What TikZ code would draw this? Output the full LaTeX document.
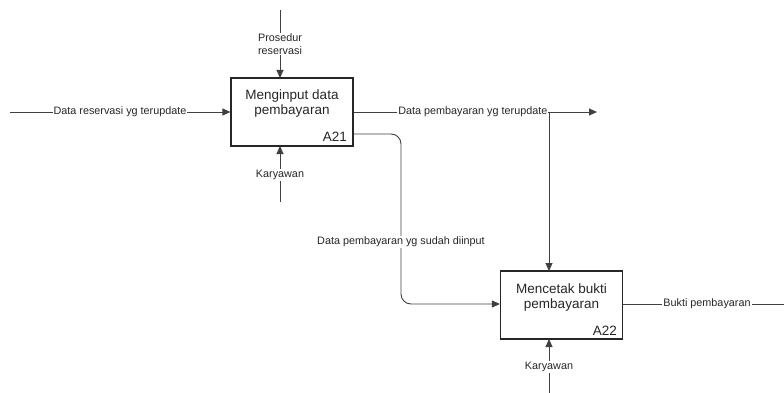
\documentclass[tikz,border=0pt]{standalone}
\usepackage{fontspec}
\setmainfont{Liberation Sans}
\usetikzlibrary{arrows.meta}
\begin{document}
\begin{tikzpicture}[x=1pt,y=-1pt,
  line/.style={draw=black!75, line width=0.9pt},
  flow/.style={line, -{Triangle[length=8pt,width=7pt]}},
  proc/.style={draw=black!85, line width=1.2pt, minimum width=122pt, minimum height=68pt, inner sep=0pt},
  title/.style={align=center, inner sep=0pt, font=\fontsize{13.5}{15}\selectfont, text=black!85},
  code/.style={inner sep=0pt, font=\fontsize{13.5}{15}\selectfont, text=black!85},
  lbl/.style={fill=white, inner sep=1pt, align=center, font=\fontsize{10.8}{12.5}\selectfont, text=black!85}]
\useasboundingbox (0,0) rectangle (784,393);

% activity boxes
\node[proc] (a21) at (292,112) {};
\node[proc] (a22) at (561.5,305) {};
% anchor "base" of a two-line node sits on the last line
\node[title, anchor=base] (t21) at (292,115) {Menginput data\\pembayaran};
\node[title, anchor=base] (t22) at (561.5,308) {Mencetak bukti\\pembayaran};
\node[code, anchor=base east] (c21) at (347,142) {A21};
\node[code, anchor=base east] (c22) at (617,335) {A22};

% free ends of the arrows
\coordinate (inA) at (10,112);
\coordinate (ctlA) at (280,10);
\coordinate (ctlAend) at (280,78);
\coordinate (mechA) at (280,202);
\coordinate (mechAend) at (280,146);
\coordinate (outA) at (597,112);
\coordinate (brA) at (549,112);
\coordinate (brAend) at (549,271);
\coordinate (outB) at (353,134);
\coordinate (mechB) at (549,393);
\coordinate (mechBend) at (549,339);
\coordinate (outC) at (784,304);

% connectors
\draw[flow] (inA) -- (a21.west |- inA);
\draw[flow] (ctlA) -- (ctlAend);
\draw[flow] (mechA) -- (mechAend);
\draw[flow] (a21.east |- outA) -- (outA);
\draw[flow] (brA) -- (brAend);
\draw[flow, rounded corners=10pt] (outB) -- (401,134) -- (401,304) -- (a22.west |- outC);
\draw[flow] (mechB) -- (mechBend);
\draw[line] (a22.east |- outC) -- (outC);

% labels on the connectors
\node[lbl] (l1) at (120,112) {Data reservasi yg terupdate};
\node[lbl] (l2) at (280,44) {Prosedur\\reservasi};
\node[lbl] (l3) at (280,175) {Karyawan};
\node[lbl, anchor=east] (l4) at (548.5,112) {Data pembayaran yg terupdate};
\node[lbl] (l5) at (401,242) {Data pembayaran yg sudah diinput};
\node[lbl] (l6) at (707,304) {Bukti pembayaran};
\node[lbl] (l7) at (549,367) {Karyawan};
\end{tikzpicture}
\end{document}
